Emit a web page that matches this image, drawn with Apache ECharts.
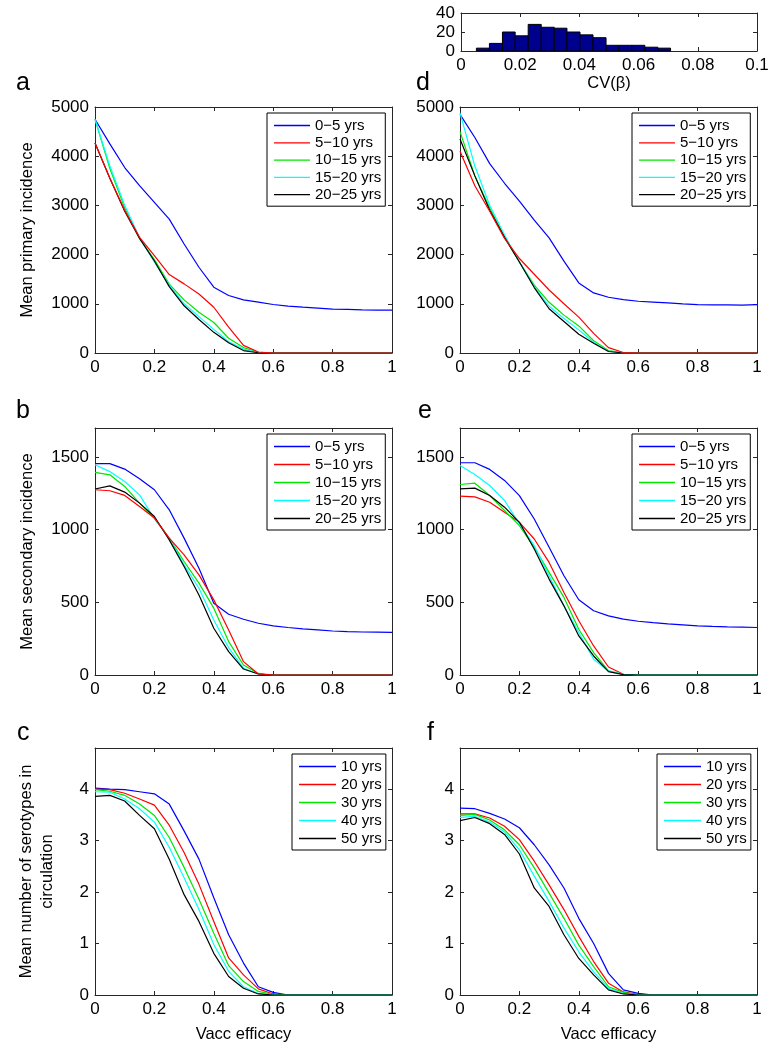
<!DOCTYPE html>
<html><head><meta charset="utf-8">
<script src="https://cdn.jsdelivr.net/npm/echarts@6/dist/echarts.min.js"></script>
<style>html,body{margin:0;padding:0;background:#fff}#c{width:776px;height:1048px}</style>
</head><body><div id="c"></div>
<script>
// ---------- data ----------
const efficacy = [0,0.05,0.1,0.15,0.2,0.25,0.3,0.35,0.4,0.45,0.5,0.55,0.6,0.65,0.7,0.75,0.8,0.85,0.9,0.95,1];
const ageGroups = ['0\u22125 yrs','5\u221210 yrs','10\u221215 yrs','15\u221220 yrs','20\u221225 yrs'];
const horizons = ['10 yrs','20 yrs','30 yrs','40 yrs','50 yrs'];

// panel a: mean primary incidence
const aAge0 = [4750,4250,3770,3400,3060,2720,2216,1743,1338,1169,1081,1034,986,953,932,912,892,885,878,872,870];
const aAge5 = [4270,3550,2900,2350,1980,1595,1405,1200,930,527,155,20,0,0,0,0,0,0,0,0,0];
const aAge10 = [4750,3750,2950,2330,1900,1400,1080,830,620,300,110,15,0,0,0,0,0,0,0,0,0];
const aAge15 = [4750,3800,3000,2350,1850,1380,1000,740,480,230,80,10,0,0,0,0,0,0,0,0,0];
const aAge20 = [4270,3550,2880,2330,1870,1350,960,680,420,210,50,5,0,0,0,0,0,0,0,0,0];
// panel d
const dAge0 = [4850,4380,3850,3450,3087,2700,2340,1866,1425,1221,1133,1085,1052,1035,1018,1000,984,980,977,972,984];
const dAge5 = [4100,3400,2880,2330,1920,1600,1280,1000,730,400,110,10,0,0,0,0,0,0,0,0,0];
const dAge10 = [4500,3600,2950,2350,1850,1380,1030,770,550,250,50,5,0,0,0,0,0,0,0,0,0];
const dAge15 = [4880,3800,3000,2400,1850,1350,950,700,470,220,40,3,0,0,0,0,0,0,0,0,0];
const dAge20 = [4350,3600,2900,2350,1850,1330,900,640,380,200,30,0,0,0,0,0,0,0,0,0,0];
// panel b: mean secondary incidence
const bAge0 = [1455,1455,1417,1350,1275,1137,942,735,494,418,384,356,338,327,317,310,303,299,296,295,294];
const bAge5 = [1275,1268,1236,1160,1080,942,827,689,517,310,92,7,0,0,0,0,0,0,0,0,0];
const bAge10 = [1395,1378,1298,1183,1080,942,781,632,460,230,69,11,0,0,0,0,0,0,0,0,0];
const bAge15 = [1447,1400,1332,1240,1075,942,758,597,379,188,46,7,0,0,0,0,0,0,0,0,0];
const bAge20 = [1280,1302,1259,1183,1091,930,747,551,322,161,41,7,0,0,0,0,0,0,0,0,0];
// panel e
const eAge0 = [1461,1461,1415,1339,1235,1074,879,683,518,442,407,384,370,360,352,345,338,334,331,329,327];
const eAge5 = [1231,1226,1189,1120,1051,936,775,568,373,200,55,5,0,0,0,0,0,0,0,0,0];
const eAge10 = [1311,1320,1235,1132,1028,879,706,534,315,154,28,5,0,0,0,0,0,0,0,0,0];
const eAge15 = [1442,1380,1304,1201,1040,890,683,476,292,108,28,5,0,0,0,0,0,0,0,0,0];
const eAge20 = [1281,1286,1235,1155,1051,867,660,476,269,131,23,2,0,0,0,0,0,0,0,0,0];
// panel c: mean number of serotypes in circulation
const cYr10 = [4.02,4.0,3.99,3.95,3.91,3.71,3.19,2.64,1.89,1.17,0.62,0.16,0.05,0,0,0,0,0,0,0,0];
const cYr20 = [4.0,3.99,3.92,3.81,3.69,3.30,2.77,2.15,1.43,0.72,0.39,0.12,0.02,0,0,0,0,0,0,0,0];
const cYr30 = [3.99,3.96,3.88,3.71,3.49,3.06,2.48,1.86,1.20,0.57,0.26,0.07,0.01,0,0,0,0,0,0,0,0];
const cYr40 = [3.95,3.94,3.81,3.62,3.36,2.87,2.28,1.66,0.98,0.46,0.16,0.03,0,0,0,0,0,0,0,0,0];
const cYr50 = [3.86,3.88,3.77,3.49,3.23,2.64,1.95,1.43,0.81,0.36,0.13,0.02,0,0,0,0,0,0,0,0,0];
// panel f
const fYr10 = [3.63,3.62,3.53,3.42,3.25,2.92,2.53,2.08,1.49,1.00,0.42,0.10,0.03,0,0,0,0,0,0,0,0];
const fYr20 = [3.52,3.52,3.44,3.28,3.02,2.60,2.14,1.66,1.14,0.65,0.23,0.06,0.01,0,0,0,0,0,0,0,0];
const fYr30 = [3.49,3.51,3.40,3.21,2.92,2.47,1.98,1.49,0.97,0.55,0.16,0.05,0,0,0,0,0,0,0,0,0];
const fYr40 = [3.45,3.47,3.36,3.17,2.82,2.31,1.82,1.30,0.84,0.45,0.13,0.03,0,0,0,0,0,0,0,0,0];
const fYr50 = [3.39,3.45,3.33,3.12,2.74,2.08,1.72,1.17,0.71,0.39,0.10,0.02,0,0,0,0,0,0,0,0,0];
// histogram of CV(beta)
const histEdges = [0.0052,0.0096,0.0140,0.0183,0.0227,0.0271,0.0315,0.0358,0.0402,0.0446,0.0490,0.0533,0.0577,0.0621,0.0665,0.0708];
const histCounts = [3,8,20,16,28,25,24,20,17,14,6,6,6,4,3];

// ---------- styling ----------
const FONT = '"Liberation Sans", Arial, Helvetica, sans-serif';
const AX = '#262626';
const COLORS = ['#0000ff','#ff0000','#00e600','#00ffff','#000000'];
const TICK_FS = 17, NAME_FS = 16.5, LEG_FS = 15;
const plain = v => String(+(+v).toFixed(6));

const panels = [
  {letter:'a', lp:[16,71], g:{left:95, top:107, width:297, height:246}, ymax:5000, yint:1000,
   names:ageGroups, vals:[aAge0,aAge5,aAge10,aAge15,aAge20], yName:'Mean primary incidence', yGap:57,
   leg:[267,113,2.3,36], redTop:true},
  {letter:'d', lp:[416,71], g:{left:460, top:107, width:297, height:246}, ymax:5000, yint:1000,
   names:ageGroups, vals:[dAge0,dAge5,dAge10,dAge15,dAge20], yName:'', yGap:0,
   leg:[632,113,2.3,36], redTop:true},
  {letter:'b', lp:[16,399], g:{left:95, top:428, width:297, height:247}, ymax:1700, yint:500,
   names:ageGroups, vals:[bAge0,bAge5,bAge10,bAge15,bAge20], yName:'Mean secondary incidence', yGap:57,
   leg:[267,434,3,36], redTop:true},
  {letter:'e', lp:[418,399], g:{left:460, top:428, width:297, height:247}, ymax:1700, yint:500,
   names:ageGroups, vals:[eAge0,eAge5,eAge10,eAge15,eAge20], yName:'', yGap:0,
   leg:[632,434,3,36], redTop:false},
  {letter:'c', lp:[17,721], g:{left:95, top:748, width:297, height:247}, ymax:4.8, yint:1,
   names:horizons, vals:[cYr10,cYr20,cYr30,cYr40,cYr50], yName:'Mean number of serotypes in\ncirculation', yGap:37,
   leg:[292,754,3,37], redTop:false, xName:'Vacc efficacy'},
  {letter:'f', lp:[427,721], g:{left:460, top:748, width:297, height:247}, ymax:4.8, yint:1,
   names:horizons, vals:[fYr10,fYr20,fYr30,fYr40,fYr50], yName:'', yGap:0,
   leg:[657,754,3,37], redTop:false, xName:'Vacc efficacy'}
];

const grid = [], xAxis = [], yAxis = [], series = [], legend = [], title = [];
const lineAxis = () => ({show:true, onZero:false, lineStyle:{color:AX, width:1}});
const inTick = () => ({show:true, inside:true, length:4, lineStyle:{color:AX, width:1}});
const lbl = (extra) => Object.assign({fontSize:TICK_FS, color:'#000', fontFamily:FONT, margin:6, formatter:plain}, extra||{});

panels.forEach((p, i) => {
  grid.push(Object.assign({containLabel:false}, p.g));
  xAxis.push({gridIndex:i, type:'value', min:0, max:1, interval:0.2, position:'bottom',
    axisLine:lineAxis(), axisTick:inTick(), axisLabel:lbl(), splitLine:{show:false},
    name:p.xName||'', nameLocation:'middle', nameGap:31,
    nameTextStyle:{fontSize:NAME_FS, color:'#000', fontFamily:FONT}});
  xAxis.push({gridIndex:i, type:'value', min:0, max:1, interval:0.2, position:'top',
    axisLine:lineAxis(), axisTick:inTick(), axisLabel:{show:false}, splitLine:{show:false}});
  yAxis.push({gridIndex:i, type:'value', min:0, max:p.ymax, interval:p.yint, position:'left',
    axisLine:lineAxis(), axisTick:inTick(),
    axisLabel:lbl({showMaxLabel: Math.abs(p.ymax/p.yint - Math.round(p.ymax/p.yint)) < 1e-9}),
    splitLine:{show:false},
    name:p.yName, nameLocation:'middle', nameGap:p.yGap,
    nameTextStyle:{fontSize:NAME_FS, color:'#000', fontFamily:FONT, lineHeight:21, align:'center'}});
  yAxis.push({gridIndex:i, type:'value', min:0, max:p.ymax, interval:p.yint, position:'right',
    axisLine:lineAxis(), axisTick:inTick(), axisLabel:{show:false}, splitLine:{show:false}});
  p.vals.forEach((v, k) => {
    series.push({type:'line', name:p.names[k], xAxisIndex:2*i, yAxisIndex:2*i,
      data: efficacy.map((x, j) => [x, v[j]]), symbol:'none', showSymbol:false,
      lineStyle:{color:COLORS[k], width:1.2}, itemStyle:{color:COLORS[k]},
      z: (p.redTop && k === 1) ? 4 : 3, silent:true, animation:false});
  });
  legend.push({orient:'vertical', left:p.leg[0], top:p.leg[1], itemGap:p.leg[2],
    itemWidth:p.leg[3], itemHeight:1.3, icon:'rect', padding:[5,4,4,7],
    borderColor:'#000', borderWidth:1, backgroundColor:'#fff', selectedMode:false,
    textStyle:{fontSize:LEG_FS, color:'#000', fontFamily:FONT, lineHeight:15},
    data:p.names.slice()});
  title.push({text:p.letter, left:p.lp[0], top:p.lp[1], padding:0,
    textStyle:{fontSize:25, fontWeight:'normal', color:'#000', fontFamily:FONT}});
});

// histogram panel
const hi = panels.length;
grid.push({left:461, top:13, width:296, height:38, containLabel:false});
xAxis.push({gridIndex:hi, type:'value', min:0, max:0.1, interval:0.02, position:'bottom',
  axisLine:lineAxis(), axisTick:inTick(), axisLabel:lbl(), splitLine:{show:false},
  name:'CV(\u03b2)', nameLocation:'middle', nameGap:23,
  nameTextStyle:{fontSize:NAME_FS, color:'#000', fontFamily:FONT}});
xAxis.push({gridIndex:hi, type:'value', min:0, max:0.1, interval:0.02, position:'top',
  axisLine:lineAxis(), axisTick:inTick(), axisLabel:{show:false}, splitLine:{show:false}});
yAxis.push({gridIndex:hi, type:'value', min:0, max:40, interval:20, position:'left',
  axisLine:lineAxis(), axisTick:inTick(), axisLabel:lbl(), splitLine:{show:false}});
yAxis.push({gridIndex:hi, type:'value', min:0, max:40, interval:20, position:'right',
  axisLine:lineAxis(), axisTick:inTick(), axisLabel:{show:false}, splitLine:{show:false}});
series.push({type:'custom', name:'CV histogram', xAxisIndex:2*hi, yAxisIndex:2*hi,
  data: histCounts.map((c, i) => [histEdges[i], histEdges[i+1], c]),
  encode:{x:[0,1], y:2}, silent:true, animation:false,
  renderItem: (params, api) => {
    const p0 = api.coord([api.value(0), api.value(2)]);
    const p1 = api.coord([api.value(1), 0]);
    return {type:'rect', shape:{x:p0[0], y:p0[1], width:p1[0]-p0[0], height:p1[1]-p0[1]},
      style:{fill:'#00008f', stroke:'#000', lineWidth:1}};
  }});

const chart = echarts.init(document.getElementById('c'), null, {renderer:'canvas'});
chart.setOption({backgroundColor:'#fff', animation:false, title, legend, grid, xAxis, yAxis, series,
  textStyle:{fontFamily:FONT}});
</script></body></html>
